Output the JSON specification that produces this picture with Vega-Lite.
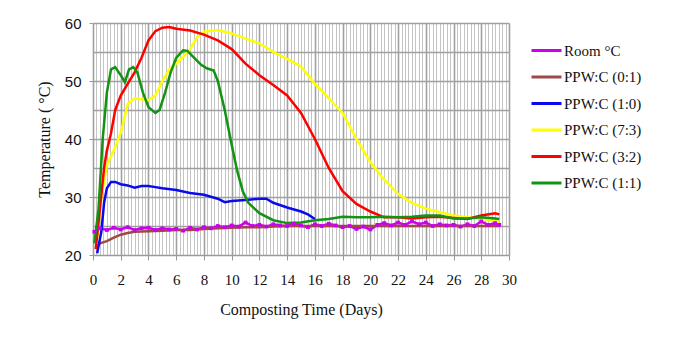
{
  "$schema": "https://vega.github.io/schema/vega-lite/v6.json",
  "width": 416,
  "height": 232,
  "autosize": {"type": "none"},
  "padding": {"left": 93, "top": 23, "right": 167, "bottom": 85},
  "background": "white",
  "config": {"view": {"stroke": null}},
  "datasets": {
    "temps": [
      {"series": "Room °C", "day": 0.1, "temp": 24.0},
      {"series": "Room °C", "day": 0.5, "temp": 24.6},
      {"series": "Room °C", "day": 1.0, "temp": 24.3},
      {"series": "Room °C", "day": 1.5, "temp": 24.7},
      {"series": "Room °C", "day": 2.0, "temp": 24.4},
      {"series": "Room °C", "day": 2.5, "temp": 24.8},
      {"series": "Room °C", "day": 3.0, "temp": 24.3},
      {"series": "Room °C", "day": 3.5, "temp": 24.6},
      {"series": "Room °C", "day": 4.0, "temp": 24.7},
      {"series": "Room °C", "day": 4.5, "temp": 24.3},
      {"series": "Room °C", "day": 5.0, "temp": 24.6},
      {"series": "Room °C", "day": 5.5, "temp": 24.4},
      {"series": "Room °C", "day": 6.0, "temp": 24.5},
      {"series": "Room °C", "day": 6.5, "temp": 24.2},
      {"series": "Room °C", "day": 7.0, "temp": 24.7},
      {"series": "Room °C", "day": 7.5, "temp": 24.4},
      {"series": "Room °C", "day": 8.0, "temp": 24.8},
      {"series": "Room °C", "day": 8.5, "temp": 24.6},
      {"series": "Room °C", "day": 9.0, "temp": 25.0},
      {"series": "Room °C", "day": 9.5, "temp": 24.8},
      {"series": "Room °C", "day": 10.0, "temp": 25.1},
      {"series": "Room °C", "day": 10.5, "temp": 24.9},
      {"series": "Room °C", "day": 11.0, "temp": 25.6},
      {"series": "Room °C", "day": 11.5, "temp": 25.0},
      {"series": "Room °C", "day": 12.0, "temp": 25.2},
      {"series": "Room °C", "day": 12.5, "temp": 24.9},
      {"series": "Room °C", "day": 13.0, "temp": 25.3},
      {"series": "Room °C", "day": 13.5, "temp": 25.1},
      {"series": "Room °C", "day": 14.0, "temp": 25.0},
      {"series": "Room °C", "day": 14.5, "temp": 25.4},
      {"series": "Room °C", "day": 15.0, "temp": 25.1},
      {"series": "Room °C", "day": 15.5, "temp": 24.8},
      {"series": "Room °C", "day": 16.0, "temp": 25.3},
      {"series": "Room °C", "day": 16.5, "temp": 25.0},
      {"series": "Room °C", "day": 17.0, "temp": 25.4},
      {"series": "Room °C", "day": 17.5, "temp": 25.1},
      {"series": "Room °C", "day": 18.0, "temp": 24.8},
      {"series": "Room °C", "day": 18.5, "temp": 25.0},
      {"series": "Room °C", "day": 19.0, "temp": 24.5},
      {"series": "Room °C", "day": 19.5, "temp": 24.9},
      {"series": "Room °C", "day": 20.0, "temp": 24.4},
      {"series": "Room °C", "day": 20.5, "temp": 25.2},
      {"series": "Room °C", "day": 21.0, "temp": 25.5},
      {"series": "Room °C", "day": 21.5, "temp": 25.1},
      {"series": "Room °C", "day": 22.0, "temp": 25.6},
      {"series": "Room °C", "day": 22.5, "temp": 25.2},
      {"series": "Room °C", "day": 23.0, "temp": 25.8},
      {"series": "Room °C", "day": 23.5, "temp": 25.3},
      {"series": "Room °C", "day": 24.0, "temp": 25.6},
      {"series": "Room °C", "day": 24.5, "temp": 25.0},
      {"series": "Room °C", "day": 25.0, "temp": 25.3},
      {"series": "Room °C", "day": 25.5, "temp": 25.1},
      {"series": "Room °C", "day": 26.0, "temp": 25.2},
      {"series": "Room °C", "day": 26.5, "temp": 24.9},
      {"series": "Room °C", "day": 27.0, "temp": 25.3},
      {"series": "Room °C", "day": 27.5, "temp": 25.0},
      {"series": "Room °C", "day": 28.0, "temp": 25.8},
      {"series": "Room °C", "day": 28.5, "temp": 25.2},
      {"series": "Room °C", "day": 29.0, "temp": 25.5},
      {"series": "Room °C", "day": 29.3, "temp": 25.2},

      {"series": "PPW:C (0:1)", "day": 0.2, "temp": 21.2},
      {"series": "PPW:C (0:1)", "day": 0.5, "temp": 22.0},
      {"series": "PPW:C (0:1)", "day": 1.0, "temp": 22.4},
      {"series": "PPW:C (0:1)", "day": 1.5, "temp": 23.0},
      {"series": "PPW:C (0:1)", "day": 2.0, "temp": 23.5},
      {"series": "PPW:C (0:1)", "day": 2.5, "temp": 23.8},
      {"series": "PPW:C (0:1)", "day": 3.0, "temp": 24.0},
      {"series": "PPW:C (0:1)", "day": 4.0, "temp": 24.1},
      {"series": "PPW:C (0:1)", "day": 5.0, "temp": 24.2},
      {"series": "PPW:C (0:1)", "day": 6.0, "temp": 24.3},
      {"series": "PPW:C (0:1)", "day": 7.0, "temp": 24.3},
      {"series": "PPW:C (0:1)", "day": 8.0, "temp": 24.5},
      {"series": "PPW:C (0:1)", "day": 9.0, "temp": 24.6},
      {"series": "PPW:C (0:1)", "day": 10.0, "temp": 24.7},
      {"series": "PPW:C (0:1)", "day": 11.0, "temp": 24.8},
      {"series": "PPW:C (0:1)", "day": 12.0, "temp": 24.8},
      {"series": "PPW:C (0:1)", "day": 13.0, "temp": 24.9},
      {"series": "PPW:C (0:1)", "day": 14.0, "temp": 25.0},
      {"series": "PPW:C (0:1)", "day": 16.0, "temp": 25.0},
      {"series": "PPW:C (0:1)", "day": 18.0, "temp": 25.0},
      {"series": "PPW:C (0:1)", "day": 20.0, "temp": 25.0},
      {"series": "PPW:C (0:1)", "day": 22.0, "temp": 25.0},
      {"series": "PPW:C (0:1)", "day": 24.0, "temp": 25.0},
      {"series": "PPW:C (0:1)", "day": 26.0, "temp": 25.0},
      {"series": "PPW:C (0:1)", "day": 28.0, "temp": 25.0},
      {"series": "PPW:C (0:1)", "day": 29.3, "temp": 25.0},

      {"series": "PPW:C (1:0)", "day": 0.3, "temp": 20.3},
      {"series": "PPW:C (1:0)", "day": 0.6, "temp": 24.0},
      {"series": "PPW:C (1:0)", "day": 0.8, "temp": 29.0},
      {"series": "PPW:C (1:0)", "day": 1.0, "temp": 31.5},
      {"series": "PPW:C (1:0)", "day": 1.3, "temp": 32.6},
      {"series": "PPW:C (1:0)", "day": 1.6, "temp": 32.6},
      {"series": "PPW:C (1:0)", "day": 2.0, "temp": 32.2},
      {"series": "PPW:C (1:0)", "day": 2.5, "temp": 32.0},
      {"series": "PPW:C (1:0)", "day": 3.0, "temp": 31.6},
      {"series": "PPW:C (1:0)", "day": 3.5, "temp": 31.9},
      {"series": "PPW:C (1:0)", "day": 4.0, "temp": 31.9},
      {"series": "PPW:C (1:0)", "day": 4.5, "temp": 31.7},
      {"series": "PPW:C (1:0)", "day": 5.0, "temp": 31.5},
      {"series": "PPW:C (1:0)", "day": 6.0, "temp": 31.2},
      {"series": "PPW:C (1:0)", "day": 7.0, "temp": 30.7},
      {"series": "PPW:C (1:0)", "day": 8.0, "temp": 30.4},
      {"series": "PPW:C (1:0)", "day": 9.0, "temp": 29.7},
      {"series": "PPW:C (1:0)", "day": 9.5, "temp": 29.1},
      {"series": "PPW:C (1:0)", "day": 10.0, "temp": 29.3},
      {"series": "PPW:C (1:0)", "day": 11.0, "temp": 29.5},
      {"series": "PPW:C (1:0)", "day": 12.0, "temp": 29.7},
      {"series": "PPW:C (1:0)", "day": 12.5, "temp": 29.7},
      {"series": "PPW:C (1:0)", "day": 13.0, "temp": 29.0},
      {"series": "PPW:C (1:0)", "day": 14.0, "temp": 28.2},
      {"series": "PPW:C (1:0)", "day": 15.0, "temp": 27.5},
      {"series": "PPW:C (1:0)", "day": 15.5, "temp": 27.0},
      {"series": "PPW:C (1:0)", "day": 16.0, "temp": 26.2},

      {"series": "PPW:C (7:3)", "day": 0.3, "temp": 23.0},
      {"series": "PPW:C (7:3)", "day": 0.6, "temp": 30.0},
      {"series": "PPW:C (7:3)", "day": 1.0, "temp": 35.5},
      {"series": "PPW:C (7:3)", "day": 1.5, "temp": 38.0},
      {"series": "PPW:C (7:3)", "day": 2.0, "temp": 41.0},
      {"series": "PPW:C (7:3)", "day": 2.5, "temp": 46.0},
      {"series": "PPW:C (7:3)", "day": 3.0, "temp": 47.0},
      {"series": "PPW:C (7:3)", "day": 4.0, "temp": 46.7},
      {"series": "PPW:C (7:3)", "day": 4.5, "temp": 47.5},
      {"series": "PPW:C (7:3)", "day": 5.0, "temp": 50.0},
      {"series": "PPW:C (7:3)", "day": 5.5, "temp": 52.0},
      {"series": "PPW:C (7:3)", "day": 6.0, "temp": 53.0},
      {"series": "PPW:C (7:3)", "day": 6.5, "temp": 54.2},
      {"series": "PPW:C (7:3)", "day": 7.0, "temp": 55.5},
      {"series": "PPW:C (7:3)", "day": 7.5, "temp": 57.5},
      {"series": "PPW:C (7:3)", "day": 8.0, "temp": 58.5},
      {"series": "PPW:C (7:3)", "day": 9.0, "temp": 58.8},
      {"series": "PPW:C (7:3)", "day": 10.0, "temp": 58.2},
      {"series": "PPW:C (7:3)", "day": 11.0, "temp": 57.3},
      {"series": "PPW:C (7:3)", "day": 12.0, "temp": 56.5},
      {"series": "PPW:C (7:3)", "day": 13.0, "temp": 55.0},
      {"series": "PPW:C (7:3)", "day": 14.0, "temp": 53.8},
      {"series": "PPW:C (7:3)", "day": 15.0, "temp": 52.5},
      {"series": "PPW:C (7:3)", "day": 16.0, "temp": 49.5},
      {"series": "PPW:C (7:3)", "day": 17.0, "temp": 47.0},
      {"series": "PPW:C (7:3)", "day": 18.0, "temp": 44.5},
      {"series": "PPW:C (7:3)", "day": 19.0, "temp": 40.0},
      {"series": "PPW:C (7:3)", "day": 20.0, "temp": 36.0},
      {"series": "PPW:C (7:3)", "day": 21.0, "temp": 33.0},
      {"series": "PPW:C (7:3)", "day": 22.0, "temp": 30.5},
      {"series": "PPW:C (7:3)", "day": 23.0, "temp": 29.0},
      {"series": "PPW:C (7:3)", "day": 24.0, "temp": 28.0},
      {"series": "PPW:C (7:3)", "day": 25.0, "temp": 27.4},
      {"series": "PPW:C (7:3)", "day": 26.0, "temp": 26.8},
      {"series": "PPW:C (7:3)", "day": 27.0, "temp": 26.5},
      {"series": "PPW:C (7:3)", "day": 28.0, "temp": 26.3},
      {"series": "PPW:C (7:3)", "day": 29.0, "temp": 25.8},
      {"series": "PPW:C (7:3)", "day": 29.3, "temp": 25.7},

      {"series": "PPW:C (3:2)", "day": 0.2, "temp": 21.0},
      {"series": "PPW:C (3:2)", "day": 0.5, "temp": 28.0},
      {"series": "PPW:C (3:2)", "day": 0.8, "temp": 35.0},
      {"series": "PPW:C (3:2)", "day": 1.0, "temp": 38.0},
      {"series": "PPW:C (3:2)", "day": 1.3, "temp": 41.0},
      {"series": "PPW:C (3:2)", "day": 1.6, "temp": 45.0},
      {"series": "PPW:C (3:2)", "day": 2.0, "temp": 47.5},
      {"series": "PPW:C (3:2)", "day": 2.5, "temp": 49.5},
      {"series": "PPW:C (3:2)", "day": 3.0, "temp": 51.5},
      {"series": "PPW:C (3:2)", "day": 3.5, "temp": 54.0},
      {"series": "PPW:C (3:2)", "day": 4.0, "temp": 57.0},
      {"series": "PPW:C (3:2)", "day": 4.5, "temp": 58.6},
      {"series": "PPW:C (3:2)", "day": 5.0, "temp": 59.2},
      {"series": "PPW:C (3:2)", "day": 5.5, "temp": 59.3},
      {"series": "PPW:C (3:2)", "day": 6.0, "temp": 59.0},
      {"series": "PPW:C (3:2)", "day": 7.0, "temp": 58.7},
      {"series": "PPW:C (3:2)", "day": 8.0, "temp": 58.0},
      {"series": "PPW:C (3:2)", "day": 9.0, "temp": 57.0},
      {"series": "PPW:C (3:2)", "day": 10.0, "temp": 55.5},
      {"series": "PPW:C (3:2)", "day": 11.0, "temp": 53.0},
      {"series": "PPW:C (3:2)", "day": 12.0, "temp": 51.0},
      {"series": "PPW:C (3:2)", "day": 13.0, "temp": 49.3},
      {"series": "PPW:C (3:2)", "day": 14.0, "temp": 47.5},
      {"series": "PPW:C (3:2)", "day": 15.0, "temp": 44.5},
      {"series": "PPW:C (3:2)", "day": 16.0, "temp": 40.0},
      {"series": "PPW:C (3:2)", "day": 17.0, "temp": 35.0},
      {"series": "PPW:C (3:2)", "day": 18.0, "temp": 31.0},
      {"series": "PPW:C (3:2)", "day": 19.0, "temp": 28.8},
      {"series": "PPW:C (3:2)", "day": 20.0, "temp": 27.5},
      {"series": "PPW:C (3:2)", "day": 21.0, "temp": 26.5},
      {"series": "PPW:C (3:2)", "day": 22.0, "temp": 26.5},
      {"series": "PPW:C (3:2)", "day": 23.0, "temp": 26.3},
      {"series": "PPW:C (3:2)", "day": 24.0, "temp": 26.5},
      {"series": "PPW:C (3:2)", "day": 25.0, "temp": 26.6},
      {"series": "PPW:C (3:2)", "day": 26.0, "temp": 26.4},
      {"series": "PPW:C (3:2)", "day": 27.0, "temp": 26.2},
      {"series": "PPW:C (3:2)", "day": 28.0, "temp": 26.8},
      {"series": "PPW:C (3:2)", "day": 29.0, "temp": 27.2},
      {"series": "PPW:C (3:2)", "day": 29.3, "temp": 27.0},

      {"series": "PPW:C (1:1)", "day": 0.1, "temp": 22.0},
      {"series": "PPW:C (1:1)", "day": 0.4, "temp": 28.0},
      {"series": "PPW:C (1:1)", "day": 0.7, "temp": 40.0},
      {"series": "PPW:C (1:1)", "day": 1.0, "temp": 48.0},
      {"series": "PPW:C (1:1)", "day": 1.3, "temp": 52.0},
      {"series": "PPW:C (1:1)", "day": 1.6, "temp": 52.4},
      {"series": "PPW:C (1:1)", "day": 2.0, "temp": 51.0},
      {"series": "PPW:C (1:1)", "day": 2.3, "temp": 49.8},
      {"series": "PPW:C (1:1)", "day": 2.6, "temp": 52.0},
      {"series": "PPW:C (1:1)", "day": 2.9, "temp": 52.4},
      {"series": "PPW:C (1:1)", "day": 3.2, "temp": 51.5},
      {"series": "PPW:C (1:1)", "day": 3.6, "temp": 48.0},
      {"series": "PPW:C (1:1)", "day": 4.0, "temp": 45.5},
      {"series": "PPW:C (1:1)", "day": 4.5, "temp": 44.5},
      {"series": "PPW:C (1:1)", "day": 4.8, "temp": 45.0},
      {"series": "PPW:C (1:1)", "day": 5.2, "temp": 48.0},
      {"series": "PPW:C (1:1)", "day": 5.6, "temp": 51.5},
      {"series": "PPW:C (1:1)", "day": 6.0, "temp": 54.0},
      {"series": "PPW:C (1:1)", "day": 6.5, "temp": 55.3},
      {"series": "PPW:C (1:1)", "day": 6.8, "temp": 55.2},
      {"series": "PPW:C (1:1)", "day": 7.3, "temp": 54.0},
      {"series": "PPW:C (1:1)", "day": 7.8, "temp": 52.8},
      {"series": "PPW:C (1:1)", "day": 8.2, "temp": 52.2},
      {"series": "PPW:C (1:1)", "day": 8.7, "temp": 51.8},
      {"series": "PPW:C (1:1)", "day": 9.0, "temp": 50.0},
      {"series": "PPW:C (1:1)", "day": 9.5, "temp": 45.0},
      {"series": "PPW:C (1:1)", "day": 10.0, "temp": 39.0},
      {"series": "PPW:C (1:1)", "day": 10.4, "temp": 34.5},
      {"series": "PPW:C (1:1)", "day": 10.8, "temp": 31.0},
      {"series": "PPW:C (1:1)", "day": 11.2, "temp": 29.0},
      {"series": "PPW:C (1:1)", "day": 12.0, "temp": 27.2},
      {"series": "PPW:C (1:1)", "day": 13.0, "temp": 26.0},
      {"series": "PPW:C (1:1)", "day": 14.0, "temp": 25.5},
      {"series": "PPW:C (1:1)", "day": 15.0, "temp": 25.6},
      {"series": "PPW:C (1:1)", "day": 16.0, "temp": 26.0},
      {"series": "PPW:C (1:1)", "day": 17.0, "temp": 26.2},
      {"series": "PPW:C (1:1)", "day": 18.0, "temp": 26.6},
      {"series": "PPW:C (1:1)", "day": 19.0, "temp": 26.5},
      {"series": "PPW:C (1:1)", "day": 20.0, "temp": 26.5},
      {"series": "PPW:C (1:1)", "day": 21.0, "temp": 26.6},
      {"series": "PPW:C (1:1)", "day": 22.0, "temp": 26.5},
      {"series": "PPW:C (1:1)", "day": 23.0, "temp": 26.6},
      {"series": "PPW:C (1:1)", "day": 24.0, "temp": 26.8},
      {"series": "PPW:C (1:1)", "day": 25.0, "temp": 26.8},
      {"series": "PPW:C (1:1)", "day": 26.0, "temp": 26.3},
      {"series": "PPW:C (1:1)", "day": 27.0, "temp": 26.3},
      {"series": "PPW:C (1:1)", "day": 28.0, "temp": 26.5},
      {"series": "PPW:C (1:1)", "day": 29.0, "temp": 26.3},
      {"series": "PPW:C (1:1)", "day": 29.3, "temp": 26.2}
    ]
  },
  "data": {"name": "temps"},
  "encoding": {
    "x": {
      "field": "day",
      "type": "quantitative",
      "scale": {"domain": [0, 30], "nice": false, "zero": false},
      "axis": {
        "title": "Composting Time  (Days)",
        "titleFont": "Liberation Serif, Times New Roman, serif",
        "titleFontSize": 16,
        "titleFontWeight": "normal",
        "titleColor": "#111",
        "titlePadding": 14,
        "values": [0,0.25,0.5,0.75,1,1.25,1.5,1.75,2,2.25,2.5,2.75,3,3.25,3.5,3.75,4,4.25,4.5,4.75,5,5.25,5.5,5.75,6,6.25,6.5,6.75,7,7.25,7.5,7.75,8,8.25,8.5,8.75,9,9.25,9.5,9.75,10,10.25,10.5,10.75,11,11.25,11.5,11.75,12,12.25,12.5,12.75,13,13.25,13.5,13.75,14,14.25,14.5,14.75,15,15.25,15.5,15.75,16,16.25,16.5,16.75,17,17.25,17.5,17.75,18,18.25,18.5,18.75,19,19.25,19.5,19.75,20,20.25,20.5,20.75,21,21.25,21.5,21.75,22,22.25,22.5,22.75,23,23.25,23.5,23.75,24,24.25,24.5,24.75,25,25.25,25.5,25.75,26,26.25,26.5,26.75,27,27.25,27.5,27.75,28,28.25,28.5,28.75,29,29.25,29.5,29.75,30],
        "labelExpr": "datum.value % 2 === 0 ? format(datum.value, 'd') : ''",
        "labelOverlap": false,
        "labelFont": "Liberation Serif, Times New Roman, serif",
        "labelFontSize": 15,
        "labelColor": "#111",
        "labelPadding": 12,
        "labelFlush": false,
        "tickSize": 5,
        "tickColor": {"condition": {"test": "datum.value % 2 === 0", "value": "#999999"}, "value": "transparent"},
        "gridColor": {"condition": {"test": "datum.value % 2 === 0", "value": "#a0a0a0"}, "value": "#c4c4c4"},
        "gridWidth": {"condition": {"test": "datum.value % 2 === 0", "value": 1.6}, "value": 1},
        "domainColor": "#999999",
        "grid": true
      }
    },
    "y": {
      "field": "temp",
      "type": "quantitative",
      "scale": {"domain": [20, 60], "nice": false, "zero": false},
      "axis": {
        "title": "Temperature ( °C)",
        "titleFont": "Liberation Serif, Times New Roman, serif",
        "titleFontSize": 16,
        "titleFontWeight": "normal",
        "titleColor": "#111",
        "titlePadding": 12,
        "values": [20, 25, 30, 35, 40, 45, 50, 55, 60],
        "labelExpr": "datum.value % 10 === 0 ? datum.label : ''",
        "labelFont": "Liberation Sans, Arial, sans-serif",
        "labelFontSize": 15,
        "labelColor": "#111",
        "labelPadding": 8,
        "tickSize": 4,
        "tickColor": {"condition": {"test": "datum.value % 10 === 0", "value": "#999999"}, "value": "transparent"},
        "gridColor": "#a0a0a0",
        "gridWidth": 1.6,
        "domain": false,
        "grid": true
      }
    }
  },
  "layer": [
    {
      "mark": {"type": "line", "strokeWidth": 2.5, "clip": true},
      "encoding": {
        "color": {
          "field": "series",
          "type": "nominal",
          "scale": {
            "domain": ["Room °C", "PPW:C (0:1)", "PPW:C (1:0)", "PPW:C (7:3)", "PPW:C (3:2)", "PPW:C (1:1)"],
            "range": ["#cc00ee", "#a04848", "#0a0aee", "#ffff00", "#ff0000", "#129312"]
          },
          "legend": {
            "title": null,
            "orient": "none",
            "legendX": 437,
            "legendY": 11,
            "symbolType": "stroke",
            "symbolSize": 900,
            "symbolStrokeWidth": 3,
            "labelFont": "Liberation Serif, Times New Roman, serif",
            "labelFontSize": 15,
            "labelColor": "#111",
            "labelOffset": 1,
            "rowPadding": 1.5,
            "padding": 0
          }
        }
      }
    },
    {
      "transform": [{"filter": "datum.series === 'Room °C'"}],
      "mark": {"type": "point", "shape": "square", "filled": true, "size": 14, "opacity": 1, "color": "#cc00ee"}
    }
  ]
}
